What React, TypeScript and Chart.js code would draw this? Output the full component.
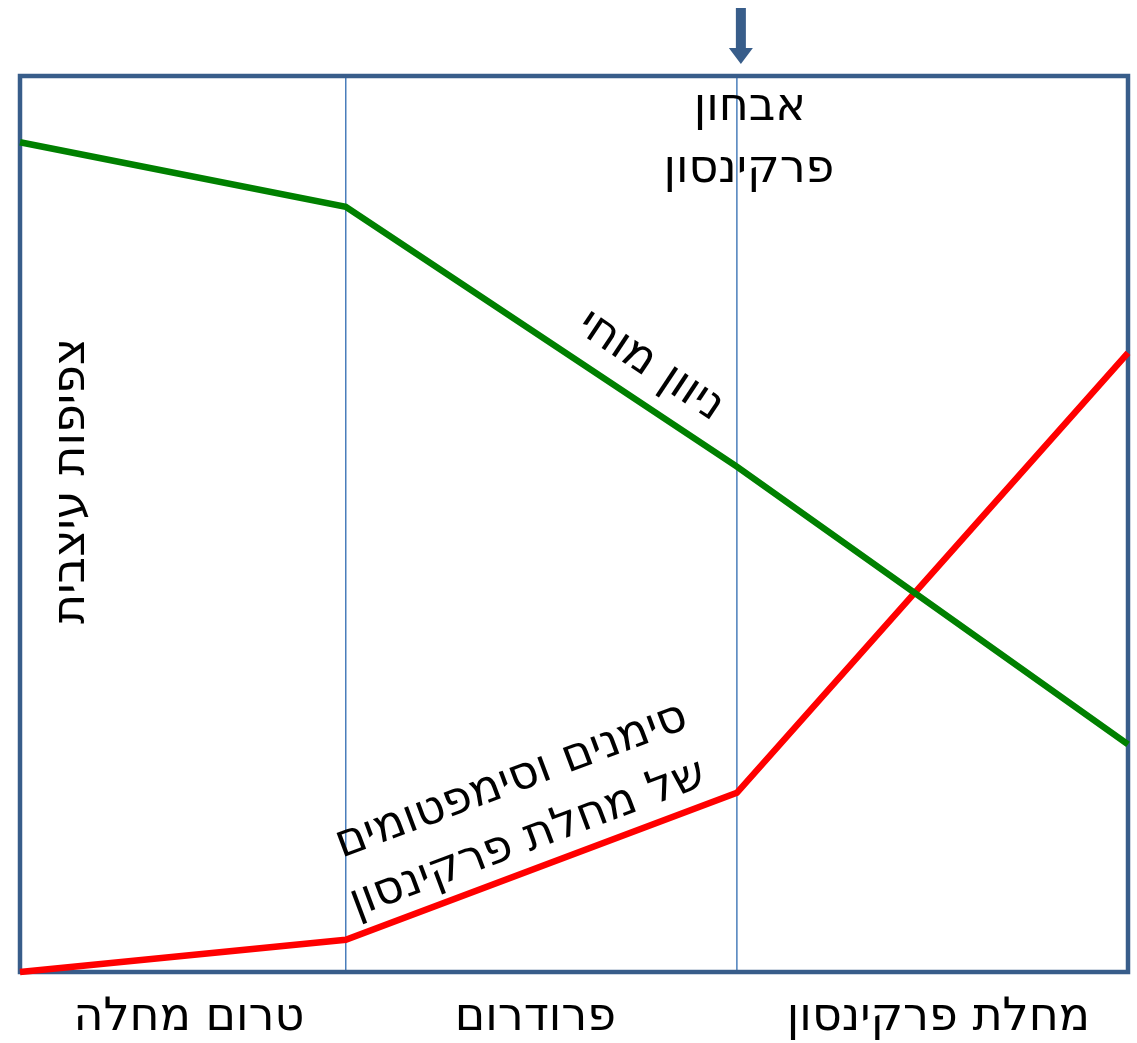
import React, { useEffect, useRef } from "react";
import Chart from "chart.js/auto";

// Stage boundaries on the time axis (percent of the time span)
const stageBounds = [0, 29.4, 64.7, 100];
const stageLabels = ["טרום מחלה", "פרודרום", "מחלת פרקינסון"];
// Series values (percent of full scale)
const neuronDensity = [92.6, 85.4, 56.4, 25.4];
const symptoms = [0, 3.6, 20.0, 69.1];
const yTitle = "צפיפות עיצבית";
const diagnosisLines = ["אבחון", "פרקינסון"];
const degenLabel = "ניוון מוחי";
const symptomLines = ["סימנים וסימפטומים", "של מחלת פרקינסון"];

const FRAME = "#385D8A";
const DIVIDER = "#4A7EBB";
const FONT = '46px "DejaVu Sans"';
const LABEL_NUDGE = [6, -6, 6];

const overlay = {
  id: "overlay",
  beforeDatasetsDraw(chart: any) {
    const { ctx, chartArea } = chart;
    const xs = chart.scales.x;
    const { left, right, top, bottom } = chartArea;
    ctx.save();
    ctx.strokeStyle = DIVIDER;
    ctx.lineWidth = 1.5;
    for (let i = 1; i < stageBounds.length - 1; i++) {
      const x = xs.getPixelForValue(stageBounds[i]);
      ctx.beginPath();
      ctx.moveTo(x, top);
      ctx.lineTo(x, bottom);
      ctx.stroke();
    }
    ctx.strokeStyle = FRAME;
    ctx.lineWidth = 4.5;
    ctx.strokeRect(left, top, right - left, bottom - top);
    ctx.restore();
  },
  afterDatasetsDraw(chart: any) {
    const { ctx, chartArea } = chart;
    const xs = chart.scales.x;
    const ys = chart.scales.y;
    const { top, bottom } = chartArea;
    ctx.save();
    ctx.fillStyle = "#000";
    ctx.font = FONT;
    ctx.textAlign = "center";
    ctx.textBaseline = "middle";

    // stage labels under the frame
    for (let i = 0; i < stageLabels.length; i++) {
      const cx = (xs.getPixelForValue(stageBounds[i]) + xs.getPixelForValue(stageBounds[i + 1])) / 2;
      ctx.fillText(stageLabels[i], cx + LABEL_NUDGE[i], bottom + 46);
    }

    // diagnosis label + arrow
    const dx = xs.getPixelForValue(stageBounds[2]);
    ctx.fillText(diagnosisLines[0], dx + 13, top + 32);
    ctx.fillText(diagnosisLines[1], dx + 12, top + 94);
    ctx.fillStyle = FRAME;
    const ax = dx + 4;
    ctx.fillRect(ax - 5, 8, 10, 42);
    ctx.beginPath();
    ctx.moveTo(ax - 12, 48);
    ctx.lineTo(ax + 12, 48);
    ctx.lineTo(ax, 64);
    ctx.closePath();
    ctx.fill();
    ctx.fillStyle = "#000";

    // y title
    ctx.save();
    ctx.translate(72, 481);
    ctx.rotate(-Math.PI / 2);
    ctx.fillText(yTitle, 0, 0);
    ctx.restore();

    // labels along the middle segments
    const drawAlong = (vals: number[], lines: string[], offs: number[][]) => {
      const x1 = xs.getPixelForValue(stageBounds[1]);
      const y1 = ys.getPixelForValue(vals[1]);
      const x2 = xs.getPixelForValue(stageBounds[2]);
      const y2 = ys.getPixelForValue(vals[2]);
      const ang = Math.atan2(y2 - y1, x2 - x1);
      ctx.save();
      ctx.translate((x1 + x2) / 2, (y1 + y2) / 2);
      ctx.rotate(ang);
      lines.forEach((t, i) => ctx.fillText(t, offs[i][0], offs[i][1]));
      ctx.restore();
    };
    drawAlong(neuronDensity, [degenLabel], [[107, -36]]);
    drawAlong(symptoms, symptomLines, [[2, -90], [-3, -30]]);
    ctx.restore();
  },
};

export default function App() {
  const ref = useRef<HTMLCanvasElement>(null);
  useEffect(() => {
    document.body.style.margin = "0";
    document.body.style.overflow = "hidden";
    const mk = (vals: number[]) => stageBounds.map((x, i) => ({ x, y: vals[i] }));
    const chart = new Chart(ref.current!, {
      type: "line",
      data: {
        datasets: [
          { label: "ניוון מוחי", data: mk(neuronDensity), borderColor: "#008000", borderWidth: 6.5, pointRadius: 0, clip: false as any },
          { label: "סימנים", data: mk(symptoms), borderColor: "#FF0000", borderWidth: 6.5, pointRadius: 0, clip: false as any },
        ],
      },
      options: {
        responsive: false,
        animation: false,
        layout: { padding: { left: 20, right: 9, top: 76, bottom: 71 } },
        plugins: { legend: { display: false }, tooltip: { enabled: false } },
        scales: {
          x: { type: "linear", min: 0, max: 100, display: false },
          y: { type: "linear", min: 0, max: 100, display: false },
        },
      },
      plugins: [overlay],
    });
    return () => chart.destroy();
  }, []);
  return <canvas ref={ref} width={1137} height={1043} style={{ display: "block" }} />;
}
